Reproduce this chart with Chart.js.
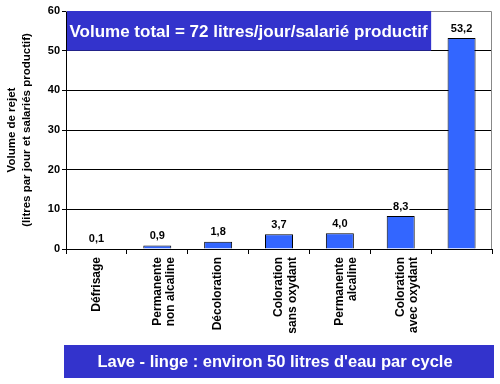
<!DOCTYPE html>
<html>
<head>
<meta charset="utf-8">
<script src="https://cdn.jsdelivr.net/npm/chart.js@4.4.1/dist/chart.umd.min.js"></script>
<style>
  html, body { margin: 0; padding: 0; background: #fff; }
  #wrap { width: 500px; height: 384px; position: relative; }
</style>
</head>
<body>
<div id="wrap"><canvas id="chart" width="500" height="384"></canvas></div>
<script>
// ─── DATA ────────────────────────────────────────────────────────────────────

const categories = [
    "Défrisage",
    ["Permanente", "non alcaline"],
    "Décoloration",
    ["Coloration", "sans oxydant"],
    ["Permanente", "alcaline"],
    ["Coloration", "avec oxydant"],
    ""
];
const volumes = [0.1, 0.9, 1.8, 3.7, 4.0, 8.3, 53.2];
const yTicks = [0, 10, 20, 30, 40, 50, 60];

const topNote = "Volume total = 72 litres/jour/salarié productif";
const bottomNote = "Lave - linge : environ 50 litres d'eau par cycle";
const yTitle = ["Volume de rejet", "(litres par jour et salariés productif)"];

const FONT = "'Liberation Sans', Arial, sans-serif";
const BOX = "#3333CC";

// ─── PLUGIN: value labels, frame and the two blue boxes ──────────────────────

const decorPlugin = {
    id: "decor",
    afterDatasetsDraw(chart) {
        const ctx = chart.ctx;
        const area = chart.chartArea;
        const meta = chart.getDatasetMeta(0);

        // gray frame top / right
        ctx.save();
        ctx.strokeStyle = "#888";
        ctx.lineWidth = 1;
        ctx.beginPath();
        ctx.moveTo(area.left, area.top + 0.5);
        ctx.lineTo(area.right - 0.5, area.top + 0.5);
        ctx.lineTo(area.right - 0.5, area.bottom);
        ctx.stroke();

        // value labels
        ctx.font = "bold 11px " + FONT;
        ctx.textAlign = "center";
        ctx.textBaseline = "bottom";
        meta.data.forEach((bar, i) => {
            const txt = volumes[i].toFixed(1).replace(".", ",");
            const y = bar.y - 4;
            const w = ctx.measureText(txt).width;
            ctx.fillStyle = "#fff";
            ctx.fillRect(bar.x - w / 2 - 1, y - 11, w + 2, 11);
            ctx.fillStyle = "#000";
            ctx.fillText(txt, bar.x, y);
        });

        // top box
        const ys = chart.scales.y;
        const xs = chart.scales.x;
        const boxRight = (xs.getPixelForValue(5) + xs.getPixelForValue(6)) / 2;
        const boxTop = ys.getPixelForValue(60);
        const boxBottom = ys.getPixelForValue(50);
        ctx.fillStyle = BOX;
        ctx.fillRect(area.left + 1, boxTop, boxRight - area.left - 1, boxBottom - boxTop);
        ctx.fillStyle = "#fff";
        ctx.font = "bold 17px " + FONT;
        ctx.textAlign = "center";
        ctx.textBaseline = "middle";
        ctx.fillText(topNote, (area.left + boxRight) / 2, (boxTop + boxBottom) / 2 + 1);

        // bottom box
        ctx.fillStyle = BOX;
        ctx.fillRect(64, 345, 430, 33);
        ctx.fillStyle = "#fff";
        ctx.font = "bold 16.5px " + FONT;
        ctx.fillText(bottomNote, 275, 362);
        ctx.restore();
    }
};

// ─── CHART ───────────────────────────────────────────────────────────────────

new Chart(document.getElementById("chart"), {
    type: "bar",
    data: {
        labels: categories,
        datasets: [{
            data: volumes,
            backgroundColor: "#3366FF",
            borderColor: "#000",
            borderWidth: 1,
            borderSkipped: "bottom",
            categoryPercentage: 1,
            barPercentage: 0.46
        }]
    },
    options: {
        responsive: false,
        animation: false,
        layout: { padding: { top: 11, right: 8, bottom: 0, left: 0 } },
        plugins: {
            legend: { display: false },
            tooltip: { enabled: false }
        },
        scales: {
            x: {
                afterFit(scale) { scale.height = 135; },
                grid: {
                    offset: true,
                    drawOnChartArea: false,
                    color: "#000",
                    tickLength: 5
                },
                border: { color: "#000", width: 1 },
                ticks: {
                    color: "#000",
                    font: { family: FONT, size: 12, weight: "bold", lineHeight: 1.1 },
                    minRotation: 90,
                    maxRotation: 90,
                    padding: 3,
                    autoSkip: false
                }
            },
            y: {
                min: 0,
                max: 60,
                afterFit(scale) { scale.width = 66; },
                afterBuildTicks(scale) { scale.ticks = yTicks.map(v => ({ value: v })); },
                grid: {
                    color: ctx => (ctx.tick && ctx.tick.value === 60 ? "rgba(0,0,0,0)" : "#000"),
                    tickColor: "#000",
                    tickLength: 4
                },
                border: { color: "#000", width: 1 },
                ticks: {
                    color: "#000",
                    font: { family: FONT, size: 11, weight: "bold" },
                    padding: 2
                },
                title: {
                    display: true,
                    text: yTitle,
                    color: "#000",
                    font: { family: FONT, size: 11.5, weight: "bold", lineHeight: 1.25 },
                    padding: { top: 5, bottom: 0 }
                }
            }
        }
    },
    plugins: [decorPlugin]
});
</script>
</body>
</html>
